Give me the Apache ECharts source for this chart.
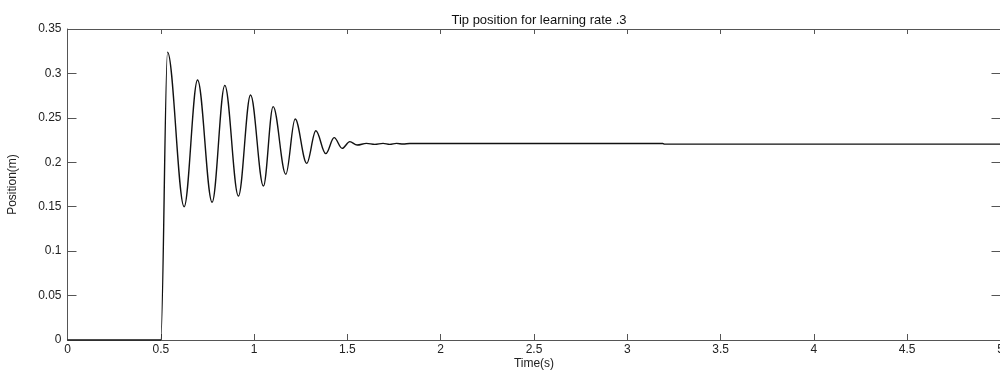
<!DOCTYPE html>
<html>
<head>
<meta charset="utf-8">
<title>Tip position for learning rate .3</title>
<script src="https://cdn.jsdelivr.net/npm/echarts@6/dist/echarts.min.js"></script>
<style>
  html, body { margin: 0; padding: 0; background: #ffffff; }
  #chart { width: 1000px; height: 370px; }
</style>
</head>
<body>
<div id="chart"></div>
<script>
// Tip position response (m) over time (s): step at 0.5 s, decaying oscillation, then settled.
// Points are the turning points of the oscillation and the settled level.
const timeValues = [
  0, 0.5, 0.536, 0.625, 0.697, 0.775, 0.843, 0.916, 0.981, 1.050,
  1.102, 1.170, 1.220, 1.282, 1.331, 1.384, 1.429, 1.472, 1.513, 1.552,
  1.602, 1.647, 1.691, 1.727, 1.763, 1.799, 1.834, 3.19, 3.20, 5.0
];
const positionValues = [
  0, 0, 0.324, 0.150, 0.2926, 0.155, 0.2866, 0.162, 0.2757, 0.1733,
  0.2626, 0.1865, 0.2487, 0.1988, 0.2355, 0.2097, 0.2277, 0.2157, 0.2232, 0.2194,
  0.2213, 0.2202, 0.2213, 0.2202, 0.2213, 0.2205, 0.2212, 0.2212, 0.2204, 0.2204
];

const titleText = 'Tip position for learning rate .3';
const xAxisTitle = 'Time(s)';
const yAxisTitle = 'Position(m)';

const xRange = { min: 0, max: 5, interval: 0.5 };
const yRange = { min: 0, max: 0.35, interval: 0.05 };

const seriesData = timeValues.map((t, i) => [t, positionValues[i]]);

const frameColor = '#555555';
const textColor = '#222222';
const fontFamily = '"Liberation Sans", Arial, Helvetica, sans-serif';

const chart = echarts.init(document.getElementById('chart'), null, { renderer: 'canvas' });

// Box-style frame: every side carries inward ticks, labels only on bottom and left.
function frameAxis(extra, range) {
  return Object.assign({
    type: 'value',
    min: range.min,
    max: range.max,
    interval: range.interval,
    splitLine: { show: false },
    axisLine: { show: true, onZero: false, lineStyle: { color: frameColor, width: 1 } },
    axisTick: { show: true, inside: true, lineStyle: { color: frameColor, width: 1 } },
    axisLabel: { show: false }
  }, extra);
}

chart.setOption({
  animation: false,
  backgroundColor: '#ffffff',
  title: {
    text: titleText,
    left: 534,
    textAlign: 'center',
    top: 9,
    textStyle: { fontFamily, fontSize: 13, fontWeight: 'normal', color: '#111111' }
  },
  grid: {
    left: 67.5, top: 29, width: 933, height: 311,
    containLabel: false,
    outerBoundsMode: 'none'
  },
  xAxis: [
    frameAxis({
      position: 'bottom',
      name: xAxisTitle,
      nameLocation: 'middle',
      nameGap: 17,
      nameMoveOverlap: false,
      nameTextStyle: { fontFamily, fontSize: 12, lineHeight: 14, color: textColor },
      axisTick: { show: true, inside: true, length: 6, lineStyle: { color: frameColor, width: 1 } },
      axisLabel: { show: true, margin: 4, fontFamily, fontSize: 12, color: textColor }
    }, xRange),
    frameAxis({
      position: 'top',
      axisTick: { show: true, inside: true, length: 5, lineStyle: { color: frameColor, width: 1 } }
    }, xRange)
  ],
  yAxis: [
    frameAxis({
      position: 'left',
      name: yAxisTitle,
      nameLocation: 'middle',
      nameGap: 49,
      nameMoveOverlap: false,
      nameRotate: 90,
      nameTextStyle: { fontFamily, fontSize: 12, color: textColor },
      axisTick: { show: true, inside: true, length: 9, lineStyle: { color: frameColor, width: 1 } },
      axisLabel: { show: true, margin: 6, fontFamily, fontSize: 12, color: textColor }
    }, yRange),
    frameAxis({
      position: 'right',
      axisTick: { show: true, inside: true, length: 9, lineStyle: { color: frameColor, width: 1 } }
    }, yRange)
  ],
  series: [{
    type: 'line',
    xAxisIndex: 0,
    yAxisIndex: 0,
    data: seriesData,
    showSymbol: false,
    smooth: 0.36,
    smoothMonotone: 'x',
    clip: true,
    lineStyle: { color: '#111111', width: 1.4 }
  }]
});
</script>
</body>
</html>
